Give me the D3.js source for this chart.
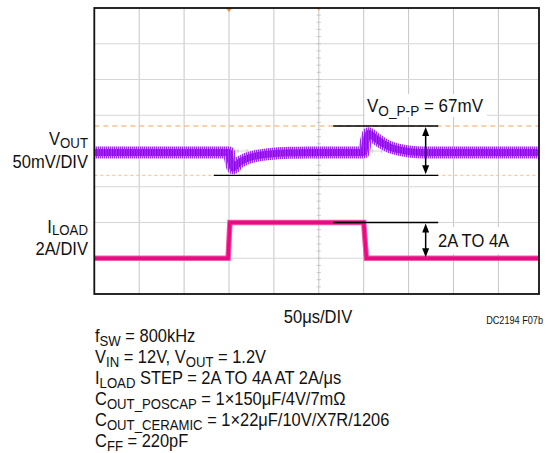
<!DOCTYPE html>
<html>
<head>
<meta charset="utf-8">
<script src="https://cdn.jsdelivr.net/npm/d3@7"></script>
<style>
  html, body { margin: 0; padding: 0; background: #fff; }
  svg { display: block; }
</style>
</head>
<body>
<script>
// ---------------- DATA ----------------
const xDivTimesUs = [0, 50, 100, 150, 200, 250, 300, 350, 400, 450];   // 50 µs/DIV grid
const yDivs = [-4, -3, -2, -1, 0, 1, 2, 3, 4];
// VOUT deviation (mV, AC coupled, 50 mV/DIV)
const voutTimesUs = [0, 150, 151, 152.5, 154.5, 157, 160, 165, 171, 180, 190, 202, 220, 240, 300, 301.5, 303.5, 305.5, 308, 314, 322, 330, 340, 352, 365, 495];
const voutMv      = [-2, -2, -9, -18, -24, -22, -17.5, -13.5, -10, -7, -5, -3.5, -2.5, -2, -2, 8, 19, 25, 23, 17, 10, 5, 1.5, -1, -2, -2];
// ILOAD (A, 2 A/DIV, ground at bottom of screen)
const iloadTimesUs = [0, 149, 151, 300, 303, 495];
const iloadAmps    = [2, 2, 4, 4, 2, 2];
// cursors (mV)
const cursorMv = [35, -34];
const vppLabel = "V_{O_P-P} = 67mV";
const stepLabel = "2A TO 4A";
const leftLabels = ["V_{OUT}", "50mV/DIV", "I_{LOAD}", "2A/DIV"];
const timeLabel = "50μs/DIV";
const figId = "DC2194 F07b";
const notes = [
  "f_{SW} = 800kHz",
  "V_{IN} = 12V, V_{OUT} = 1.2V",
  "I_{LOAD} STEP = 2A TO 4A AT 2A/μs",
  "C_{OUT_POSCAP} = 1×150μF/4V/7mΩ",
  "C_{OUT_CERAMIC} = 1×22μF/10V/X7R/1206",
  "C_{FF} = 220pF"
];
const mvPerDiv = 50, ampPerDiv = 2, iloadOffsetDiv = -4;

// ---------------- LAYOUT ----------------
const W = 551, H = 453;
const FONT = "'Liberation Sans', Arial, sans-serif";
const svg = d3.select("body").append("svg").attr("width", W).attr("height", H);

const x = d3.scaleLinear().domain([0, 500]).range([94.3, 543.3]);
const yDiv = d3.scaleLinear().domain([-4, 4]).range([294, 8]);
const yV = mv => yDiv(mv / mvPerDiv);
const yI = a => yDiv(iloadOffsetDiv + a / ampPerDiv);
const plotL = x(0), plotR = 539, plotT = yDiv(4), plotB = yDiv(-4);

const defs = svg.append("defs");
function stripes(id, c1, c2, w) {
  const p = defs.append("pattern").attr("id", id).attr("patternUnits", "userSpaceOnUse")
    .attr("width", w).attr("height", 4);
  p.append("rect").attr("width", w).attr("height", 4).attr("fill", c2);
  p.append("rect").attr("width", w / 2).attr("height", 4).attr("fill", c1);
}
stripes("vOuter", "#a32af0", "#dcaef9", 2);
stripes("vInner", "#8c00ea", "#a534f0", 2.6);
defs.append("clipPath").attr("id", "plotClip").append("rect")
  .attr("x", plotL).attr("y", plotT).attr("width", plotR - plotL).attr("height", plotB - plotT);

// grid
const grid = svg.append("g");
grid.selectAll("line.v").data(xDivTimesUs.slice(1)).join("line")
  .attr("x1", d => x(d)).attr("x2", d => x(d)).attr("y1", plotT).attr("y2", plotB)
  .attr("stroke", "#c6c6c6").attr("stroke-width", 1);
grid.selectAll("line.h").data(yDivs.slice(1, -1)).join("line")
  .attr("x1", plotL).attr("x2", plotR).attr("y1", d => yDiv(d)).attr("y2", d => yDiv(d))
  .attr("stroke", "#d6d6d6").attr("stroke-width", 1);
// minor ticks on center axes
const minorT = d3.range(0, 500, 10);
grid.selectAll("line.mx").data(minorT).join("line")
  .attr("x1", d => x(d)).attr("x2", d => x(d)).attr("y1", yDiv(0) - 2).attr("y2", yDiv(0) + 2)
  .attr("stroke", "#bdbdbd").attr("stroke-width", 0.8);
const minorY = d3.range(-4, 4, 0.2);
grid.selectAll("line.my").data(minorY).join("line")
  .attr("x1", x(250) - 2).attr("x2", x(250) + 2).attr("y1", d => yDiv(d)).attr("y2", d => yDiv(d))
  .attr("stroke", "#bdbdbd").attr("stroke-width", 0.8);

// cursors
svg.append("line").attr("x1", plotL).attr("x2", plotR).attr("y1", yV(cursorMv[0])).attr("y2", yV(cursorMv[0]))
  .attr("stroke", "#f4a55a").attr("stroke-width", 1.2).attr("stroke-dasharray", "5,4");
svg.append("line").attr("x1", plotL).attr("x2", plotR).attr("y1", yV(cursorMv[1])).attr("y2", yV(cursorMv[1]))
  .attr("stroke", "#f7c9a2").attr("stroke-width", 1.2).attr("stroke-dasharray", "3,3");

// traces
const traces = svg.append("g").attr("clip-path", "url(#plotClip)");
const vData = voutTimesUs.map((t, i) => [t, voutMv[i]]);
const vLine = d3.line().x(d => x(d[0])).y(d => yV(d[1])).curve(d3.curveMonotoneX);
traces.append("path").attr("d", vLine(vData)).attr("fill", "none")
  .attr("stroke", "url(#vOuter)").attr("stroke-width", 12).attr("stroke-linejoin", "round");
traces.append("path").attr("d", vLine(vData)).attr("fill", "none")
  .attr("stroke", "url(#vInner)").attr("stroke-width", 7).attr("stroke-linejoin", "round");

const iData = iloadTimesUs.map((t, i) => [t, iloadAmps[i]]);
const iLine = d3.line().x(d => x(d[0])).y(d => yI(d[1]));
traces.append("path").attr("d", iLine(iData)).attr("fill", "none")
  .attr("stroke", "#f35aa8").attr("stroke-width", 5.5);
traces.append("path").attr("d", iLine(iData)).attr("fill", "none")
  .attr("stroke", "#ec0a84").attr("stroke-width", 3.5);

// trigger markers
svg.append("path").attr("d", `M${x(150) - 3},${plotT} L${x(150) + 3},${plotT} L${x(150)},${plotT + 4}Z`).attr("fill", "#f08a30");
svg.append("path").attr("d", `M${x(250) - 2},${plotT} L${x(250) + 2},${plotT} L${x(250)},${plotT + 3}Z`).attr("fill", "#f4b070");

// frame
svg.append("rect").attr("x", plotL).attr("y", plotT).attr("width", plotR - plotL).attr("height", plotB - plotT)
  .attr("fill", "none").attr("stroke", "#111").attr("stroke-width", 1.8);

// annotations
const ann = svg.append("g").attr("stroke", "#000").attr("stroke-width", 1.3);
ann.append("line").attr("x1", x(133)).attr("x2", x(383)).attr("y1", yV(cursorMv[1])).attr("y2", yV(cursorMv[1]));
ann.append("line").attr("x1", x(266)).attr("x2", x(383)).attr("y1", yV(cursorMv[0])).attr("y2", yV(cursorMv[0]));
ann.append("line").attr("x1", x(266)).attr("x2", x(383)).attr("y1", yI(4)).attr("y2", yI(4));

function dArrow(xp, y1, y2) {
  const g = svg.append("g");
  g.append("line").attr("x1", xp).attr("x2", xp).attr("y1", y1 + 6).attr("y2", y2 - 6)
    .attr("stroke", "#000").attr("stroke-width", 1.5);
  g.append("path").attr("d", `M${xp},${y1} L${xp - 3.5},${y1 + 9} L${xp + 3.5},${y1 + 9}Z`).attr("fill", "#000");
  g.append("path").attr("d", `M${xp},${y2} L${xp - 3.5},${y2 - 9} L${xp + 3.5},${y2 - 9}Z`).attr("fill", "#000");
}
dArrow(x(369), yV(cursorMv[0]) + 1, yV(cursorMv[1]) - 1);
dArrow(x(369), yI(4) + 1, yI(2) - 1);

// text helper: "A_{sub}" syntax
function txt(xp, yp, s, o) {
  const size = o.size, sx = o.sx;
  const t = svg.append("text").attr("transform", `translate(${xp},${yp}) scale(${sx},1)`)
    .attr("font-family", FONT).attr("font-size", size).attr("fill", "#111")
    .attr("text-anchor", o.anchor || "start");
  const parts = s.split(/(_\{[^}]*\})/).filter(p => p.length);
  let inSub = false;
  const sh = size * (o.subShift || 0.2);
  parts.forEach(p => {
    const isSub = p.startsWith("_{");
    const ts = t.append("tspan").text(isSub ? p.slice(2, -1) : p);
    if (isSub) {
      ts.attr("font-size", size * 0.8);
      if (!inSub) ts.attr("dy", sh);
    } else if (inSub) ts.attr("dy", -sh);
    inSub = isSub;
  });
  return t;
}

// label boxes
svg.append("rect").attr("x", 365).attr("y", 94).attr("width", 122).attr("height", 23).attr("fill", "#fff");
svg.append("rect").attr("x", 436).attr("y", 227).attr("width", 76).attr("height", 27).attr("fill", "#fff");

txt(367, 112, vppLabel, { size: 18.5, sx: 0.92 });
txt(438, 247, stepLabel, { size: 18, sx: 0.92 });

txt(88, 145, leftLabels[0], { size: 18, sx: 0.92, anchor: "end", subShift: 0.16 });
txt(88, 167.5, leftLabels[1], { size: 18, sx: 0.92, anchor: "end" });
txt(88, 232.5, leftLabels[2], { size: 18, sx: 0.92, anchor: "end", subShift: 0.16 });
txt(88, 255, leftLabels[3], { size: 18, sx: 0.92, anchor: "end" });

txt(318, 323, timeLabel, { size: 18, sx: 0.92, anchor: "middle" });
txt(543, 324, figId, { size: 10.5, sx: 0.87, anchor: "end" });

notes.forEach((s, i) => txt(95, 342 + i * 21, s, { size: 17.5, sx: 0.94 }));
</script>
</body>
</html>
